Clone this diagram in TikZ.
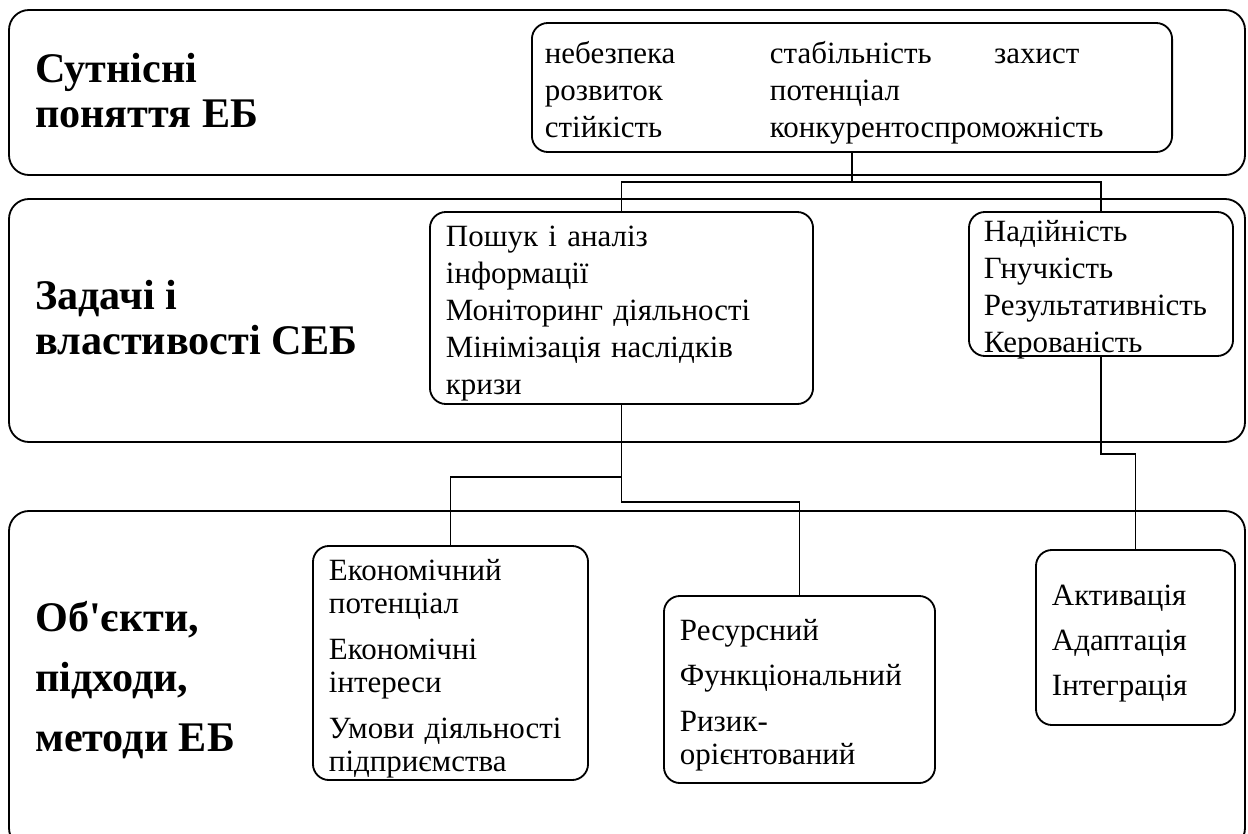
\documentclass[tikz,border=0pt]{standalone}
\usepackage{fontspec}
\setmainfont{Liberation Serif}

\begin{document}
\begin{tikzpicture}[
		x=0.025cm,y=-0.025cm,
		band/.style={
			draw,line width=1.3pt,rounded corners=5mm,
		},
		block/.style={
			draw,line width=1.3pt,rounded corners=4mm,align=left,inner xsep=4mm,inner ysep=0mm,
			font=\fontsize{22}{26.3}\selectfont,execute at begin node={\rule{0pt}{1.05em}},
		},
		list/.style={
			block,font=\fontsize{22}{23.8}\selectfont,
		},
		heading/.style={
			anchor=west,align=left,inner sep=0mm,font=\fontsize{30}{32}\selectfont\bfseries,
		},
		wire/.style={
			line width=1.3pt,
		},
	]
	\useasboundingbox (0,0) rectangle (1248,834);

	% three horizontal bands
	\foreach \ya/\yb in {10/175,199/442,511/848}
	\draw[band] (9,\ya) rectangle (1245,\yb);

	% band titles
	\node[heading] (head-1) at (35,91) {Сутнісні\\поняття ЕБ};
	\node[heading] (head-2) at (35,318) {Задачі і\\властивості СЕБ};
	\node[heading,font=\fontsize{30}{42.7}\selectfont\bfseries] (head-3) at (35,680)
		{Об\textquotesingle єкти,\\підходи,\\методи ЕБ};

	% boxes
	\node[block,inner xsep=3.25mm,text width=15.35cm,minimum height=3.225cm] (concepts) at (852,87.5)
		{\makebox[5.625cm][l]{небезпека}\makebox[5.6cm][l]{стабільність}захист\\
		\makebox[5.625cm][l]{розвиток}потенціал\\
		\makebox[5.625cm][l]{стійкість}конкурентоспроможність};
	\node[block,text width=8.775cm,minimum height=4.8cm] (tasks) at (621.5,308)
		{Пошук~і~аналіз\\інформації\\Моніторинг~діяльності\\Мінімізація~наслідків\\кризи};
	\node[block,inner xsep=3.75mm,inner ysep=-3pt,text width=5.85cm,minimum height=3.6cm,
		execute at begin node={\rule{0pt}{0.85em}}] (props) at (1101,284)
		{Надійність\\Гнучкість\\Результативність\\Керованість};
	\node[list,text width=6.075cm,minimum height=5.85cm] (objects) at (450.5,663)
		{Економічний\\потенціал\\[8.5pt]Економічні\\інтереси\\[8.5pt]Умови~діяльності\\підприємства};
	\node[list,text width=5.975cm,minimum height=4.675cm] (approaches) at (799.5,689.5)
		{Ресурсний\\[8.5pt]Функціональний\\[8.5pt]Ризик-\\орієнтований};
	\node[list,text width=4.175cm,minimum height=4.375cm] (methods) at (1135.5,637.5)
		{Активація\\[8.5pt]Адаптація\\[8.5pt]Інтеграція};

	% connectors
	\coordinate (split-1) at (852,182);
	\draw[wire] (concepts.south) -- (split-1) -| (tasks.north);
	\draw[wire] (split-1) -| (props.north);
	\draw[wire] (tasks.south) -- ++(0,72) -| (objects.north);
	\draw[wire] (tasks.south) -- ++(0,97) -| (approaches.north);
	\draw[wire] (props.south) -- ++(0,97) -| (methods.north);

\end{tikzpicture}
\end{document}
